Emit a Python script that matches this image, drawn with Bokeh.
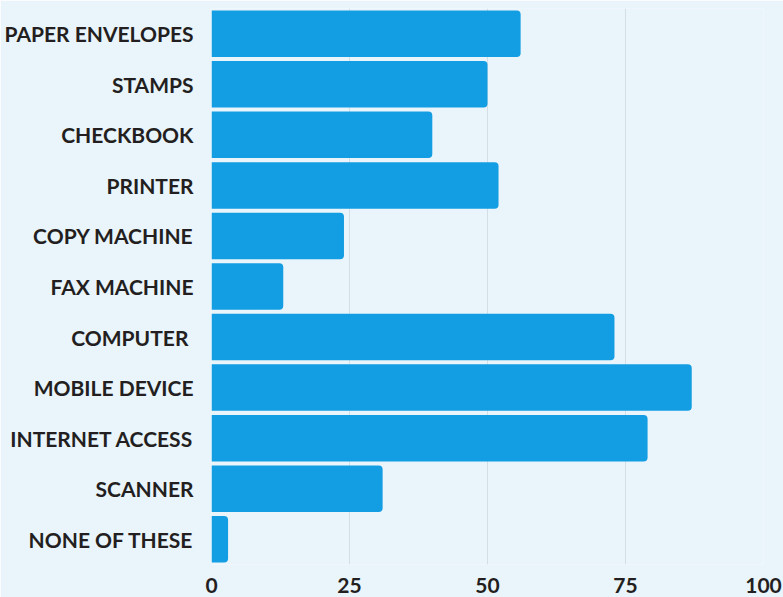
from bokeh.plotting import figure
from bokeh.models import ColumnDataSource, Range1d, FixedTicker
from bokeh.embed import file_html
from bokeh.resources import INLINE

categories = ["PAPER ENVELOPES", "STAMPS", "CHECKBOOK", "PRINTER", "COPY MACHINE",
              "FAX MACHINE", "COMPUTER ", "MOBILE DEVICE", "INTERNET ACCESS",
              "SCANNER", "NONE OF THESE"]
values = [56, 50, 40, 52, 24, 13, 73, 87, 79, 31, 3]
x_ticks = [0, 25, 50, 75, 100]

BG = "#EAF4FB"
BAR = "#139EE3"
TXT = "#231F20"

source = ColumnDataSource(data=dict(cat=categories, val=values))

p = figure(width=783, height=597, y_range=list(reversed(categories)),
           x_range=Range1d(0, 100), output_backend="svg", toolbar_location=None,
           min_border_left=211, min_border_right=20, min_border_top=8, min_border_bottom=33)
p.frame_width = 552
p.frame_height = 556

p.hbar(y="cat", right="val", left=0, height=0.92, source=source,
       fill_color=BAR, line_color=None, border_radius=(0, 4, 4, 0))

p.background_fill_color = BG
p.border_fill_color = BG
p.outline_line_color = None

p.ygrid.grid_line_color = None
p.xgrid.grid_line_color = "#D3DEE6"
p.xgrid.grid_line_width = 1
p.xgrid.ticker = FixedTicker(ticks=x_ticks)

p.xaxis.ticker = FixedTicker(ticks=x_ticks)
for ax in (p.xaxis[0], p.yaxis[0]):
    ax.axis_line_color = None
    ax.major_tick_line_color = None
    ax.minor_tick_line_color = None
    ax.major_label_text_font = "Lato"
    ax.major_label_text_font_style = "bold"
    ax.major_label_text_font_size = "21px"
    ax.major_label_text_color = TXT
p.yaxis.major_label_standoff = 12
p.xaxis.major_label_standoff = 7

open("out.html", "w").write(file_html(p, INLINE))
